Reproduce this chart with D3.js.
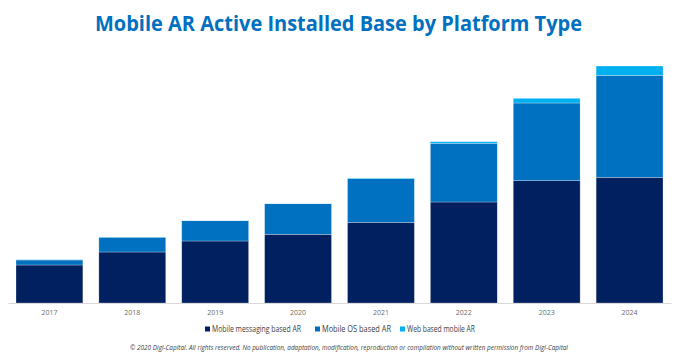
<!DOCTYPE html>
<html>
<head>
<meta charset="utf-8">
<script src="https://cdn.jsdelivr.net/npm/d3@7"></script>
<style>
  html, body { margin: 0; padding: 0; background: #fff; }
  svg { display: block; }
</style>
</head>
<body>
<svg id="chart" width="679" height="359"></svg>
<script>
const years = ["2017", "2018", "2019", "2020", "2021", "2022", "2023", "2024"];
const messaging = [38, 51, 62, 68.7, 80.7, 101, 122.3, 125.7];
const mobileOS = [5, 14.7, 20.3, 30.6, 43.6, 58.7, 77.7, 102];
const webBased = [0.3, 0.3, 0.3, 0.3, 0.7, 1.6, 4.7, 9.3];
const seriesNames = ["Mobile messaging based AR", "Mobile OS based AR", "Web based mobile AR"];
const seriesColors = ["#002060", "#0070C0", "#00B0F0"];
const titleText = "Mobile AR Active Installed Base by Platform Type";
const footerText = "© 2020 Digi-Capital. All rights reserved. No publication, adaptation, modification, reproduction or compilation without written permission from Digi-Capital";

const svg = d3.select("#chart");
const rows = years.map((y, i) => ({ year: y, m: messaging[i], o: mobileOS[i], w: webBased[i] }));
const stack = d3.stack().keys(["m", "o", "w"])(rows);

const x = d3.scaleBand().domain(years).range([8, 671]).paddingInner(0.193).paddingOuter(0.0965);
const y = d3.scaleLinear().domain([0, 240]).range([303, 63]);

// title
svg.append("text")
  .attr("x", 95).attr("y", 31)
  .attr("textLength", 487).attr("lengthAdjust", "spacingAndGlyphs")
  .attr("font-family", "'Open Sans', sans-serif")
  .attr("font-weight", "bold").attr("font-size", 22)
  .attr("fill", "#0070C0")
  .text(titleText);

// bars
svg.append("g").selectAll("g").data(stack).join("g")
  .attr("fill", (d, i) => seriesColors[i])
  .selectAll("rect").data(d => d).join("rect")
  .attr("x", d => x(d.data.year))
  .attr("width", x.bandwidth())
  .attr("y", d => y(d[1]))
  .attr("height", d => y(d[0]) - y(d[1]))
  .attr("stroke", "rgba(255,255,255,0.45)")
  .attr("stroke-width", 0.6);

// axis
const xAxis = svg.append("g").attr("transform", "translate(0,303)")
  .call(d3.axisBottom(x).tickSize(0).tickPadding(7));
xAxis.select(".domain").attr("stroke", "#d9d9d9").attr("stroke-width", 1);
xAxis.selectAll("text")
  .attr("font-family", "'Open Sans', sans-serif")
  .attr("font-size", 7).attr("fill", "#6b6b6b");

// legend
const legendX = [205, 315, 400];
const legendLen = [89, 69, 68];
const lg = svg.append("g").selectAll("g").data(seriesNames).join("g")
  .attr("transform", (d, i) => `translate(${legendX[i]},329)`);
lg.append("rect").attr("x", 0).attr("y", -2.5).attr("width", 5).attr("height", 5)
  .attr("fill", (d, i) => seriesColors[i]);
lg.append("text").attr("x", 7).attr("y", 0).attr("dy", "0.35em")
  .attr("textLength", (d, i) => legendLen[i]).attr("lengthAdjust", "spacingAndGlyphs")
  .attr("font-family", "'Open Sans', sans-serif")
  .attr("font-size", 8.6).attr("fill", "#404040")
  .text(d => d);

// footer
svg.append("text")
  .attr("x", 130).attr("y", 350)
  .attr("textLength", 438).attr("lengthAdjust", "spacingAndGlyphs")
  .attr("font-family", "'Open Sans', sans-serif")
  .attr("font-style", "italic").attr("font-size", 6.3)
  .attr("fill", "#404040")
  .text(footerText);
</script>
</body>
</html>
